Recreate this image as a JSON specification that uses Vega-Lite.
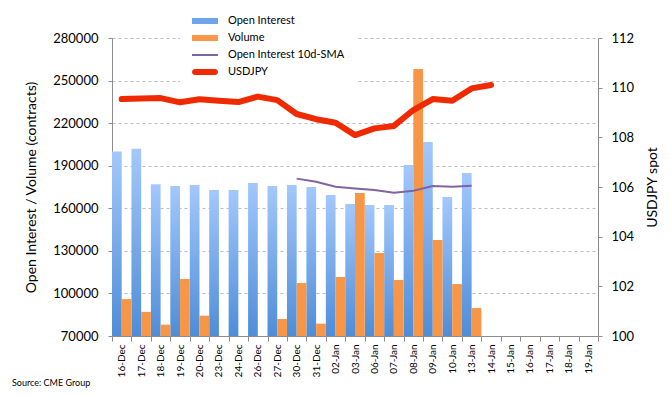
{
  "$schema": "https://vega.github.io/schema/vega-lite/v6.json",
  "width": 486,
  "height": 298,
  "autosize": "none",
  "padding": {"left": 112, "top": 38, "right": 73, "bottom": 60},
  "background": "white",
  "config": {
    "font": "Lato",
    "view": {"stroke": null},
    "axis": {"labelColor": "#000000", "titleColor": "#000000", "domainColor": "#8C8C8C", "tickColor": "#8C8C8C", "titleFontWeight": "normal"}
  },
  "title": {"text": "Source: CME Group", "orient": "bottom", "anchor": "start", "frame": "group", "dx": -100, "offset": 2, "fontSize": 9, "fontWeight": "normal", "font": "Lato", "color": "#000000"},
  "datasets": {
    "main": [
      {"date": "16-Dec", "series": "Open Interest", "value": 200000},
      {"date": "17-Dec", "series": "Open Interest", "value": 202000},
      {"date": "18-Dec", "series": "Open Interest", "value": 177000},
      {"date": "19-Dec", "series": "Open Interest", "value": 175700},
      {"date": "20-Dec", "series": "Open Interest", "value": 176400},
      {"date": "23-Dec", "series": "Open Interest", "value": 172900},
      {"date": "24-Dec", "series": "Open Interest", "value": 172900},
      {"date": "26-Dec", "series": "Open Interest", "value": 177800},
      {"date": "27-Dec", "series": "Open Interest", "value": 175700},
      {"date": "30-Dec", "series": "Open Interest", "value": 176400},
      {"date": "31-Dec", "series": "Open Interest", "value": 175000},
      {"date": "02-Jan", "series": "Open Interest", "value": 169400},
      {"date": "03-Jan", "series": "Open Interest", "value": 163000},
      {"date": "06-Jan", "series": "Open Interest", "value": 162300},
      {"date": "07-Jan", "series": "Open Interest", "value": 162300},
      {"date": "08-Jan", "series": "Open Interest", "value": 190500},
      {"date": "09-Jan", "series": "Open Interest", "value": 206700},
      {"date": "10-Jan", "series": "Open Interest", "value": 168000},
      {"date": "13-Jan", "series": "Open Interest", "value": 184900},
      {"date": "16-Dec", "series": "Volume", "value": 96000},
      {"date": "17-Dec", "series": "Volume", "value": 87000},
      {"date": "18-Dec", "series": "Volume", "value": 78000},
      {"date": "19-Dec", "series": "Volume", "value": 110200},
      {"date": "20-Dec", "series": "Volume", "value": 84300},
      {"date": "27-Dec", "series": "Volume", "value": 82000},
      {"date": "30-Dec", "series": "Volume", "value": 107300},
      {"date": "31-Dec", "series": "Volume", "value": 78700},
      {"date": "02-Jan", "series": "Volume", "value": 111600},
      {"date": "03-Jan", "series": "Volume", "value": 170800},
      {"date": "06-Jan", "series": "Volume", "value": 128500},
      {"date": "07-Jan", "series": "Volume", "value": 109500},
      {"date": "08-Jan", "series": "Volume", "value": 258200},
      {"date": "09-Jan", "series": "Volume", "value": 137700},
      {"date": "10-Jan", "series": "Volume", "value": 106600},
      {"date": "13-Jan", "series": "Volume", "value": 89700},
      {"date": "30-Dec", "series": "Open Interest 10d-SMA", "value": 180900},
      {"date": "31-Dec", "series": "Open Interest 10d-SMA", "value": 178700},
      {"date": "02-Jan", "series": "Open Interest 10d-SMA", "value": 175200},
      {"date": "03-Jan", "series": "Open Interest 10d-SMA", "value": 174000},
      {"date": "06-Jan", "series": "Open Interest 10d-SMA", "value": 172900},
      {"date": "07-Jan", "series": "Open Interest 10d-SMA", "value": 171000},
      {"date": "08-Jan", "series": "Open Interest 10d-SMA", "value": 172400},
      {"date": "09-Jan", "series": "Open Interest 10d-SMA", "value": 175700},
      {"date": "10-Jan", "series": "Open Interest 10d-SMA", "value": 175200},
      {"date": "13-Jan", "series": "Open Interest 10d-SMA", "value": 175900},
      {"date": "16-Dec", "series": "USDJPY", "value": 109.54},
      {"date": "17-Dec", "series": "USDJPY", "value": 109.56},
      {"date": "18-Dec", "series": "USDJPY", "value": 109.58},
      {"date": "19-Dec", "series": "USDJPY", "value": 109.41},
      {"date": "20-Dec", "series": "USDJPY", "value": 109.53},
      {"date": "23-Dec", "series": "USDJPY", "value": 109.47},
      {"date": "24-Dec", "series": "USDJPY", "value": 109.42},
      {"date": "26-Dec", "series": "USDJPY", "value": 109.64},
      {"date": "27-Dec", "series": "USDJPY", "value": 109.5},
      {"date": "30-Dec", "series": "USDJPY", "value": 108.94},
      {"date": "31-Dec", "series": "USDJPY", "value": 108.73},
      {"date": "02-Jan", "series": "USDJPY", "value": 108.59},
      {"date": "03-Jan", "series": "USDJPY", "value": 108.09},
      {"date": "06-Jan", "series": "USDJPY", "value": 108.36},
      {"date": "07-Jan", "series": "USDJPY", "value": 108.46},
      {"date": "08-Jan", "series": "USDJPY", "value": 109.1},
      {"date": "09-Jan", "series": "USDJPY", "value": 109.54},
      {"date": "10-Jan", "series": "USDJPY", "value": 109.47},
      {"date": "13-Jan", "series": "USDJPY", "value": 109.97},
      {"date": "14-Jan", "series": "USDJPY", "value": 110.11}
    ]
  },
  "data": {"name": "main"},
  "encoding": {
    "x": {
      "field": "date",
      "type": "nominal",
      "sort": null,
      "scale": {
        "domain": ["16-Dec","17-Dec","18-Dec","19-Dec","20-Dec","23-Dec","24-Dec","26-Dec","27-Dec","30-Dec","31-Dec","02-Jan","03-Jan","06-Jan","07-Jan","08-Jan","09-Jan","10-Jan","13-Jan","14-Jan","15-Jan","16-Jan","17-Jan","18-Jan","19-Jan"],
        "paddingInner": 0,
        "paddingOuter": 0
      },
      "axis": {"title": null, "labelAngle": 270, "labelFontSize": 10, "tickBand": "extent", "tickSize": 5, "labelPadding": 3, "grid": false}
    }
  },
  "layer": [
    {
      "layer": [
        {
          "transform": [{"filter": "datum.series === 'Open Interest' || datum.series === 'Volume'"}],
          "mark": {"type": "bar"},
          "encoding": {
            "xOffset": {"field": "series", "type": "nominal", "scale": {"domain": ["Open Interest", "Volume"], "paddingInner": 0, "paddingOuter": 0}},
            "y": {
              "field": "value",
              "type": "quantitative",
              "scale": {"domain": [70000, 280000], "zero": false, "nice": false},
              "axis": {"values": [70000,100000,130000,160000,190000,220000,250000,280000], "format": "d", "title": "Open Interest / Volume (contracts)", "titleFontSize": 14, "titlePadding": 14, "labelFontSize": 13, "tickSize": 4, "labelPadding": 10, "grid": true, "gridDash": [3, 3], "gridColor": "#BDBDBD"}
            },
            "y2": {"datum": 70000},
            "fill": {
              "condition": {"test": "datum.series === 'Open Interest'", "value": {"gradient": "linear", "x1": 0, "y1": 0, "x2": 0, "y2": 1, "stops": [{"offset": 0, "color": "#A3C8FC"}, {"offset": 1, "color": "#4E8DD8"}]}},
              "value": "#F79646"
            }
          }
        },
        {
          "transform": [{"filter": "datum.series === 'Open Interest 10d-SMA'"}],
          "mark": {"type": "line", "strokeWidth": 2},
          "encoding": {
            "y": {"field": "value", "type": "quantitative"},
            "color": {
              "datum": "Open Interest 10d-SMA",
              "scale": {"domain": ["Open Interest", "Volume", "Open Interest 10d-SMA", "USDJPY"], "range": ["#6FA5EC", "#F79646", "#8064A2", "#F02A00"]},
              "legend": {
                "title": null,
                "orient": "none",
                "legendX": 68,
                "legendY": -37.5,
                "padding": 12,
                "fillColor": "white",
                "clipHeight": 17,
                "rowPadding": 0,
                "labelOffset": 10,
                "labelFontSize": 11,
                "labelColor": "#000000",
                "labelFont": "Lato",
                "symbolSize": 676,
                "encode": {
                  "symbols": {
                    "update": {
                      "shape": {"signal": "datum.value === 'USDJPY' ? 'M-0.77,-0.23H0.77A0.23,0.23 0 0 1 0.77,0.23H-0.77A0.23,0.23 0 0 1 -0.77,-0.23Z' : datum.value === 'Open Interest 10d-SMA' ? 'M-1,-0.07H1V0.07H-1Z' : 'M-1,-0.24H1V0.24H-1Z'"},
                      "fill": {"scale": "color", "field": "value"},
                      "strokeWidth": {"value": 0},
                      "size": {"value": 676},
                      "opacity": {"value": 1}
                    }
                  }
                }
              }
            }
          }
        }
      ]
    },
    {
      "transform": [{"filter": "datum.series === 'USDJPY'"}],
      "mark": {"type": "line", "strokeWidth": 6, "strokeCap": "round", "strokeJoin": "round"},
      "encoding": {
        "y": {
          "field": "value",
          "type": "quantitative",
          "scale": {"domain": [100, 112], "zero": false, "nice": false},
          "axis": {"orient": "right", "values": [100,102,104,106,108,110,112], "title": "USDJPY spot", "titleAngle": 270, "titleFontSize": 14, "titlePadding": 26, "labelFontSize": 13, "tickSize": 4, "labelPadding": 9, "grid": false}
        },
        "color": {"datum": "USDJPY"}
      }
    }
  ],
  "resolve": {"scale": {"y": "independent"}}
}
